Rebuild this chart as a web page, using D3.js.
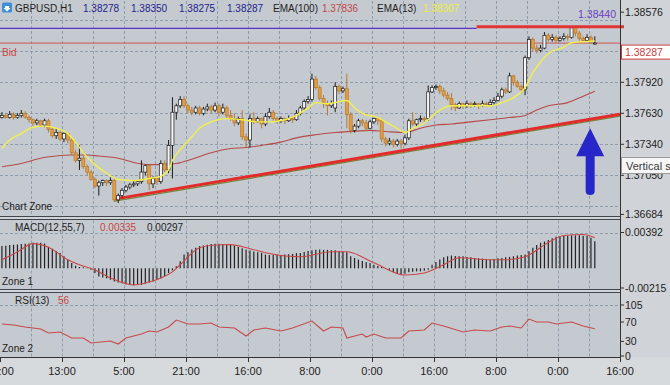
<!DOCTYPE html>
<html>
<head>
<meta charset="utf-8">
<script src="https://cdn.jsdelivr.net/npm/d3@7"></script>
<style>
  body { margin: 0; background: #d0d3d7; }
  svg { display: block; font-family: "Liberation Sans", Arial, sans-serif; }
</style>
</head>
<body>
<div id="chart"></div>
<script>
// H1 candles, [open, high, low, close]
const candles = [
  [1.3759,1.3764,1.3758,1.3761],[1.3761,1.3763,1.3758,1.3759],[1.3759,1.3765,1.3758,1.3762],[1.3762,1.3764,1.3757,1.3759],
  [1.3759,1.3763,1.3758,1.3761],[1.3761,1.3766,1.3759,1.3763],[1.3763,1.3765,1.3758,1.3759],[1.3759,1.3761,1.3754,1.3757],
  [1.3757,1.3758,1.3751,1.3754],[1.3754,1.3758,1.3752,1.3756],[1.3756,1.3757,1.3750,1.3752],[1.3752,1.3758,1.3750,1.3756],
  [1.3756,1.3758,1.3745,1.3748],[1.3748,1.3750,1.3740,1.3742],[1.3742,1.3749,1.3739,1.3745],[1.3745,1.3747,1.3737,1.3739],
  [1.3739,1.3745,1.3736,1.3744],[1.3744,1.3744,1.3735,1.3738],[1.3738,1.3740,1.3724,1.3726],[1.3726,1.3729,1.3717,1.3719],
  [1.3719,1.3733,1.3710,1.3721],[1.3721,1.3723,1.3711,1.3713],[1.3713,1.3715,1.3705,1.3708],[1.3708,1.3710,1.3700,1.3701],
  [1.3701,1.3703,1.3693,1.3695],[1.3695,1.3700,1.3686,1.3698],[1.3698,1.3701,1.3695,1.3700],[1.3700,1.3701,1.3695,1.3698],
  [1.3698,1.3703,1.3696,1.3700],[1.3700,1.3702,1.3680,1.3682],[1.3682,1.3688,1.3679,1.3686],[1.3686,1.3693,1.3684,1.3691],
  [1.3691,1.3696,1.3689,1.3694],[1.3694,1.3698,1.3692,1.3696],[1.3696,1.3700,1.3694,1.3697],[1.3697,1.3700,1.3695,1.3699],
  [1.3699,1.3719,1.3697,1.3708],[1.3708,1.3715,1.3705,1.3714],[1.3714,1.3715,1.3691,1.3697],[1.3697,1.3704,1.3693,1.3702],
  [1.3702,1.3704,1.3696,1.3699],[1.3699,1.3719,1.3697,1.3716],[1.3716,1.3719,1.3708,1.3710],[1.3710,1.3738,1.3707,1.3733],
  [1.3733,1.3778,1.3702,1.3764],[1.3764,1.3772,1.3757,1.3770],[1.3770,1.3779,1.3768,1.3776],[1.3776,1.3779,1.3768,1.3770],
  [1.3770,1.3772,1.3763,1.3766],[1.3766,1.3769,1.3761,1.3764],[1.3764,1.3770,1.3762,1.3768],[1.3768,1.3770,1.3761,1.3763],
  [1.3763,1.3769,1.3761,1.3767],[1.3767,1.3772,1.3765,1.3769],[1.3769,1.3771,1.3763,1.3766],[1.3766,1.3773,1.3764,1.3770],
  [1.3770,1.3772,1.3760,1.3764],[1.3764,1.3772,1.3762,1.3768],[1.3768,1.3770,1.3758,1.3761],[1.3761,1.3766,1.3756,1.3758],
  [1.3758,1.3763,1.3751,1.3754],[1.3754,1.3760,1.3752,1.3758],[1.3758,1.3766,1.3738,1.3741],[1.3741,1.3744,1.3731,1.3738],
  [1.3738,1.3762,1.3731,1.3758],[1.3758,1.3764,1.3753,1.3755],[1.3755,1.3760,1.3754,1.3758],[1.3758,1.3759,1.3749,1.3753],
  [1.3753,1.3763,1.3751,1.3760],[1.3760,1.3768,1.3758,1.3764],[1.3764,1.3766,1.3756,1.3758],[1.3758,1.3760,1.3753,1.3756],
  [1.3756,1.3760,1.3754,1.3758],[1.3758,1.3759,1.3753,1.3756],[1.3756,1.3761,1.3755,1.3758],[1.3758,1.3760,1.3754,1.3757],
  [1.3757,1.3766,1.3756,1.3763],[1.3763,1.3770,1.3761,1.3768],[1.3768,1.3776,1.3766,1.3774],[1.3774,1.3779,1.3772,1.3776],
  [1.3776,1.3800,1.3774,1.3795],[1.3795,1.3798,1.3785,1.3787],[1.3787,1.3789,1.3775,1.3777],[1.3777,1.3780,1.3768,1.3772],
  [1.3772,1.3775,1.3761,1.3770],[1.3770,1.3775,1.3768,1.3772],[1.3768,1.3792,1.3764,1.3788],[1.3788,1.3790,1.3781,1.3784],
  [1.3784,1.3788,1.3782,1.3786],[1.3786,1.3800,1.3749,1.3762],[1.3762,1.3764,1.3744,1.3747],[1.3747,1.3753,1.3745,1.3751],
  [1.3751,1.3758,1.3749,1.3756],[1.3756,1.3758,1.3751,1.3754],[1.3754,1.3757,1.3746,1.3749],[1.3749,1.3757,1.3748,1.3755],
  [1.3755,1.3759,1.3753,1.3758],[1.3758,1.3758,1.3752,1.3756],[1.3756,1.3758,1.3736,1.3739],[1.3739,1.3741,1.3732,1.3735],
  [1.3735,1.3740,1.3733,1.3737],[1.3737,1.3739,1.3731,1.3734],[1.3734,1.3739,1.3732,1.3737],[1.3737,1.3739,1.3730,1.3735],
  [1.3735,1.3743,1.3733,1.3740],[1.3740,1.3758,1.3738,1.3756],[1.3756,1.3764,1.3751,1.3753],[1.3753,1.3758,1.3751,1.3757],
  [1.3757,1.3761,1.3755,1.3758],[1.3758,1.3760,1.3754,1.3757],[1.3758,1.3789,1.3756,1.3783],[1.3783,1.3789,1.3782,1.3787],
  [1.3787,1.3790,1.3785,1.3788],[1.3788,1.3790,1.3781,1.3784],[1.3784,1.3787,1.3778,1.3780],[1.3780,1.3783,1.3775,1.3777],
  [1.3777,1.3782,1.3766,1.3771],[1.3771,1.3773,1.3765,1.3768],[1.3768,1.3774,1.3767,1.3772],[1.3772,1.3773,1.3767,1.3770],
  [1.3770,1.3775,1.3768,1.3772],[1.3772,1.3774,1.3768,1.3771],[1.3771,1.3774,1.3769,1.3772],[1.3772,1.3772,1.3767,1.3770],
  [1.3770,1.3775,1.3769,1.3772],[1.3772,1.3774,1.3769,1.3771],[1.3771,1.3776,1.3770,1.3773],[1.3773,1.3778,1.3771,1.3775],
  [1.3775,1.3782,1.3774,1.3779],[1.3779,1.3787,1.3777,1.3785],[1.3785,1.3787,1.3781,1.3783],[1.3783,1.3801,1.3782,1.3798],
  [1.3798,1.3799,1.3789,1.3792],[1.3792,1.3794,1.3787,1.3788],[1.3788,1.3790,1.3782,1.3785],[1.3785,1.3817,1.3780,1.3815],
  [1.3815,1.3835,1.3813,1.3832],[1.3832,1.3834,1.3821,1.3824],[1.3824,1.3827,1.3819,1.3822],[1.3822,1.3827,1.3820,1.3824],
  [1.3824,1.3839,1.3823,1.3836],[1.3836,1.3838,1.3830,1.3832],[1.3832,1.3837,1.3830,1.3834],[1.3834,1.3836,1.3829,1.3831],
  [1.3831,1.3835,1.3830,1.3833],[1.3833,1.3838,1.3831,1.3835],[1.3835,1.3837,1.3831,1.3834],[1.3834,1.3844,1.3833,1.3843],
  [1.3843,1.3844,1.3835,1.3838],[1.3838,1.3840,1.3831,1.3833],[1.3833,1.3835,1.3830,1.3831],[1.3831,1.3837,1.3830,1.3834],
  [1.3834,1.3836,1.3828,1.3830],[1.38278,1.38350,1.38275,1.38287]
];

// indicator lines, [bar, value]
const ema13 = [
  [0,1.3730],[2,1.3738],[5,1.3744],[8,1.3750],[11,1.3751],[14,1.3749],[17,1.3744],[19,1.3736],[21,1.3726],
  [24,1.3715],[27,1.3707],[30,1.3701],[34,1.3700],[38,1.3702],[41,1.3704],[43,1.3710],[44,1.3719],[46,1.3729],
  [49,1.3741],[51,1.3749],[54,1.3755],[58,1.3758],[62,1.3757],[66,1.3755],[69,1.3755],[73,1.3757],[76,1.3761],
  [79,1.3768],[81,1.3773],[84,1.3772],[86,1.3773],[89,1.3775],[91,1.3768],[93,1.3763],[97,1.3759],[99,1.3755],
  [102,1.3749],[104,1.3745],[106,1.3749],[109,1.3754],[110,1.3757],[113,1.3766],[116,1.3770],[119,1.3770],
  [123,1.3770],[126,1.3770],[129,1.3773],[133,1.3780],[135,1.3787],[137,1.3801],[139,1.3811],[141,1.3819],
  [145,1.3825],[147,1.3829],[150,1.3830],[153,1.38307]
];
const ema100 = [
  [0,1.3713],[5,1.3716],[10,1.3721],[14,1.3723],[18,1.3724],[22,1.3724],[25,1.3723],[30,1.3721],[34,1.3717],
  [38,1.3715],[41,1.3715],[45,1.3716],[49,1.3720],[54,1.3726],[59,1.3730],[63,1.3731],[67,1.3733],[72,1.3736],
  [76,1.3740],[81,1.3743],[86,1.3745],[90,1.3746],[95,1.3747],[99,1.3746],[104,1.3745],[108,1.3749],[112,1.3752],
  [116,1.3753],[121,1.3755],[126,1.3757],[131,1.3759],[135,1.3761],[138,1.3766],[141,1.3770],[146,1.3773],
  [150,1.3779],[153,1.37836]
];

// MACD(12,55,7) histogram, one per bar
const macdHist = [
  .00243,.00247,.00254,.00258,.00261,.00265,.00269,.00272,.00280,.00280,.00280,.00272,.00236,.00213,.00191,.00169,
  .00132,.00096,.00059,.00029,.00015,.00011,.00004,-.00015,-.00052,-.00088,-.00099,-.00110,-.00125,-.00144,-.00155,-.00162,
  -.00173,-.00180,-.00184,-.00180,-.00180,-.00169,-.00155,-.00144,-.00125,-.00107,-.00088,-.00052,-.00022,.00022,.00077,.00151,
  .00177,.00206,.00224,.00243,.00250,.00258,.00265,.00269,.00269,.00265,.00261,.00258,.00250,.00236,.00221,.00206,
  .00195,.00184,.00177,.00169,.00151,.00147,.00147,.00151,.00147,.00151,.00155,.00158,.00166,.00169,.00180,.00191,
  .00199,.00202,.00206,.00202,.00202,.00199,.00199,.00191,.00184,.00177,.00132,.00114,.00096,.00081,.00070,.00059,
  .00040,.00026,.00015,.00002,-.00015,-.00044,-.00059,-.00070,-.00059,-.00044,-.00037,-.00033,-.00033,-.00026,-.00015,.00040,
  .00070,.00096,.00121,.00132,.00140,.00136,.00132,.00132,.00125,.00121,.00114,.00110,.00107,.00099,.00096,.00103,
  .00110,.00114,.00121,.00125,.00132,.00140,.00147,.00151,.00188,.00224,.00254,.00280,.00294,.00309,.00328,.00346,
  .00350,.00353,.00357,.00361,.00361,.00361,.00357,.00353,.00335,.00297
];
const macdSignal = [
  [0,.00094],[4,.00180],[8,.00270],[12,.00230],[17,.00094],[20,.00039],[24,-.00017],[28,-.00105],[34,-.00182],
  [38,-.00149],[41,-.00105],[44,-.00039],[46,.00039],[51,.00226],[55,.00255],[59,.00259],[64,.00215],[68,.00171],
  [77,.00127],[85,.00182],[89,.00182],[96,.00061],[104,-.00072],[109,-.00050],[114,.00039],[118,.00116],
  [126,.00094],[130,.00094],[135,.00127],[141,.00282],[145,.00359],[150,.00370],[153,.00335]
];

// RSI(13)
const rsi13 = [
  [0,65.8],[3,63.8],[6,59.7],[10,55.6],[12,47.3],[15,49.4],[18,37.0],[21,37.0],[23,26.7],[28,30.9],[30,24.7],
  [32,37.0],[36,45.3],[38,51.4],[40,49.4],[43,59.7],[45,74.1],[48,65.8],[51,65.8],[54,67.9],[56,59.7],[60,57.6],
  [63,41.2],[65,53.5],[68,57.6],[72,51.4],[75,57.6],[80,72.0],[83,51.4],[85,59.7],[88,57.6],[89,37.0],[93,45.3],
  [94,39.1],[96,45.3],[99,37.0],[103,37.0],[105,51.4],[109,53.5],[111,67.9],[114,61.7],[119,49.4],[122,53.5],
  [126,51.4],[129,59.7],[131,61.7],[134,57.6],[136,76.1],[138,70.0],[141,70.0],[143,65.8],[147,70.0],[150,61.7],
  [151,59.7],[153,56]
];

const timeLabels = ["21:00","13:00","5:00","21:00","16:00","8:00","0:00","16:00","8:00","0:00","16:00"];
const priceTicks = [1.38576, 1.37920, 1.37630, 1.37340, 1.37050, 1.36684];
const priceGrid = [1.3850, 1.3821, 1.3792, 1.3763, 1.3734, 1.3705, 1.3676];
const macdTicks = [0.00392, -0.00215];
const rsiTicks = [105, 70, 30, 0];
const ohlcLast = ["1.38278", "1.38350", "1.38275", "1.38287"];
const bidPrice = 1.38287;
const levelPrice = 1.38440;
const purplePrice = 1.38425;
const levelFromBar = 123;
const trendLine = [[29, 1.36827], [159.5, 1.37622]];
const arrowMark = { bar: 151.8, tip: 1.37489, tail: 1.36865 };

const width = 670;
const height = 385;
const plotRight = 620;

const x = d3.scaleLinear().domain([0, 160]).range([0, plotRight]);
const xc = i => x(i + 0.5);
const yP = d3.scaleLinear().domain([1.36684, 1.38576]).range([214.4, 12.2]);
const yM = d3.scaleLinear().domain([-0.00215, 0.00392]).range([288, 232.5]);
const yR = d3.scaleLinear().domain([0, 105]).range([356, 305]);

const panels = [
  { top: 0, bottom: 216.5 },
  { top: 219.5, bottom: 289.5 },
  { top: 292.5, bottom: 357.5 }
];

const svg = d3.create("svg")
    .attr("width", width)
    .attr("height", height)
    .attr("viewBox", [0, 0, width, height]);

svg.append("rect").attr("width", width).attr("height", height).attr("fill", "#d0d3d7");
svg.append("rect").attr("y", 357.5).attr("width", width).attr("height", height - 357.5).attr("fill", "#d7dadd");

// panel backgrounds + frames
svg.append("g").selectAll("rect")
  .data(panels)
  .join("rect")
    .attr("x", 0)
    .attr("y", d => d.top)
    .attr("width", plotRight)
    .attr("height", d => d.bottom - d.top)
    .attr("fill", "#c5cad0");

svg.append("g")
    .attr("stroke", "#41464b")
    .selectAll("line")
    .data([216.5, 219.5, 289.5, 292.5])
    .join("line")
      .attr("x1", 0).attr("x2", plotRight)
      .attr("y1", d => d).attr("y2", d => d);

// grid
const grid = svg.append("g")
    .attr("stroke", "#8a97a8")
    .attr("stroke-dasharray", "3,2")
    .attr("stroke-width", 0.9);

panels.forEach(p => {
  grid.append("g").selectAll("line")
    .data(d3.range(8, 160, 8))
    .join("line")
      .attr("x1", d => Math.round(x(d)) + 0.5).attr("x2", d => Math.round(x(d)) + 0.5)
      .attr("y1", p.top + 1).attr("y2", p.bottom - 1);
});

grid.append("g").selectAll("line")
  .data(priceGrid)
  .join("line")
    .attr("x1", 0).attr("x2", plotRight)
    .attr("y1", d => Math.round(yP(d)) + 0.5).attr("y2", d => Math.round(yP(d)) + 0.5);

grid.append("line")
    .attr("x1", 0).attr("x2", plotRight)
    .attr("y1", Math.round(yM(macdTicks[0])) + 0.5).attr("y2", Math.round(yM(macdTicks[0])) + 0.5);

grid.append("line")
    .attr("x1", 0).attr("x2", plotRight)
    .attr("y1", Math.round(yR(105)) + 0.5).attr("y2", Math.round(yR(105)) + 0.5);

// horizontal levels
svg.append("line")
    .attr("x1", 0).attr("x2", x(levelFromBar))
    .attr("y1", yP(purplePrice)).attr("y2", yP(purplePrice))
    .attr("stroke", "#5a32c4").attr("stroke-width", 1.2);

svg.append("line")
    .attr("x1", 0).attr("x2", plotRight)
    .attr("y1", yP(bidPrice)).attr("y2", yP(bidPrice))
    .attr("stroke", "#d05555").attr("stroke-width", 1);

// EMA(100)
const emaLine = d3.line()
    .curve(d3.curveMonotoneX)
    .x(d => xc(d[0]))
    .y(d => yP(d[1]));

svg.append("path")
    .datum(ema100)
    .attr("fill", "none")
    .attr("stroke", "#b54a4a")
    .attr("stroke-width", 1.1)
    .attr("d", emaLine);

// trend line with its shadow
const trendPath = d3.line().x(d => xc(d[0])).y(d => yP(d[1]));
svg.append("path")
    .datum(trendLine)
    .attr("fill", "none")
    .attr("stroke", "#6f8a3c")
    .attr("stroke-width", 1.2)
    .attr("transform", "translate(0,2)")
    .attr("d", trendPath);
svg.append("path")
    .datum(trendLine)
    .attr("fill", "none")
    .attr("stroke", "#e42b2b")
    .attr("stroke-width", 3)
    .attr("d", trendPath);

// candles
const bull = d => d[3] >= d[0];
const candleG = svg.append("g")
    .selectAll("g")
    .data(candles)
    .join("g");

candleG.append("line")
    .attr("x1", (d, i) => xc(i)).attr("x2", (d, i) => xc(i))
    .attr("y1", d => yP(d[1])).attr("y2", d => yP(d[2]))
    .attr("stroke", d => bull(d) ? "#1c1c1c" : "#b47a32")
    .attr("stroke-width", 1);

candleG.append("rect")
    .attr("x", (d, i) => xc(i) - 1.5)
    .attr("width", 3)
    .attr("y", d => yP(Math.max(d[0], d[3])))
    .attr("height", d => Math.max(1, Math.abs(yP(d[0]) - yP(d[3]))))
    .attr("fill", d => bull(d) ? "#f5f5f5" : "#e49c3d")
    .attr("stroke", d => bull(d) ? "#1c1c1c" : "#b47a32")
    .attr("stroke-width", 0.7);

// EMA(13)
svg.append("path")
    .datum(ema13)
    .attr("fill", "none")
    .attr("stroke", "#f2f04a")
    .attr("stroke-width", 1.4)
    .attr("d", emaLine);

// red level line at the top
svg.append("line")
    .attr("x1", x(levelFromBar)).attr("x2", plotRight + 4)
    .attr("y1", yP(levelPrice)).attr("y2", yP(levelPrice))
    .attr("stroke", "#e13434").attr("stroke-width", 3);

svg.append("text")
    .attr("x", plotRight - 4)
    .attr("y", yP(levelPrice) - 9)
    .attr("text-anchor", "end")
    .attr("font-size", 10.5)
    .attr("fill", "#6a3fc4")
    .text(levelPrice.toFixed(5));

// blue arrow
const ax = xc(arrowMark.bar);
const tipY = yP(arrowMark.tip);
const tailY = yP(arrowMark.tail);
svg.append("path")
    .attr("d", `M${ax},${tipY} L${ax + 14},${tipY + 28} L${ax + 4.5},${tipY + 28} L${ax + 4.5},${tailY - 4}
                Q${ax + 4.5},${tailY} ${ax},${tailY} Q${ax - 4.5},${tailY} ${ax - 4.5},${tailY - 4}
                L${ax - 4.5},${tipY + 28} L${ax - 14},${tipY + 28} Z`)
    .attr("fill", "#2727c9");

// MACD panel
svg.append("g")
    .attr("stroke", "#222")
    .attr("stroke-width", 1.2)
    .selectAll("line")
    .data(macdHist)
    .join("line")
      .attr("x1", (d, i) => xc(i)).attr("x2", (d, i) => xc(i))
      .attr("y1", yM(0)).attr("y2", d => yM(d));

svg.append("path")
    .datum(macdSignal)
    .attr("fill", "none")
    .attr("stroke", "#c84646")
    .attr("stroke-width", 1.1)
    .attr("d", d3.line().curve(d3.curveMonotoneX).x(d => xc(d[0])).y(d => yM(d[1])));

// RSI panel
svg.append("path")
    .datum(rsi13)
    .attr("fill", "none")
    .attr("stroke", "#c54a4a")
    .attr("stroke-width", 1.1)
    .attr("d", d3.line().x(d => xc(d[0])).y(d => yR(d[1])));

// right axis
svg.append("line")
    .attr("x1", plotRight + 0.5).attr("x2", plotRight + 0.5)
    .attr("y1", 0).attr("y2", 358)
    .attr("stroke", "#333");
svg.append("line")
    .attr("x1", 0).attr("x2", plotRight)
    .attr("y1", 357.5).attr("y2", 357.5)
    .attr("stroke", "#333");

const rightAxis = (ticks, scale, fmt) => {
  const g = svg.append("g").attr("font-size", 10.5).attr("fill", "#1e1e1e");
  g.selectAll("line")
    .data(ticks)
    .join("line")
      .attr("x1", plotRight).attr("x2", plotRight + 4)
      .attr("y1", d => scale(d)).attr("y2", d => scale(d))
      .attr("stroke", "#333");
  g.selectAll("text")
    .data(ticks)
    .join("text")
      .attr("x", plotRight + 5)
      .attr("y", d => scale(d))
      .attr("dy", "0.36em")
      .text(fmt);
};
rightAxis(priceTicks, yP, d => d.toFixed(5));
rightAxis(macdTicks, yM, d => d.toFixed(5));
rightAxis(rsiTicks, yR, d => d);

// bid box
svg.append("rect")
    .attr("x", plotRight + 1.5).attr("y", yP(bidPrice) + 2)
    .attr("width", 52).attr("height", 14)
    .attr("fill", "#ffffff").attr("stroke", "#d23c3c");
svg.append("text")
    .attr("x", plotRight + 5).attr("y", yP(bidPrice) + 9)
    .attr("dy", "0.36em")
    .attr("font-size", 10.5)
    .attr("fill", "#d23c3c")
    .text(bidPrice.toFixed(5));

// tooltip
svg.append("rect")
    .attr("x", plotRight + 1.5).attr("y", 157.5)
    .attr("width", 55).attr("height", 16)
    .attr("fill", "#f6f6f6").attr("stroke", "#9a9a9a");
svg.append("text")
    .attr("x", plotRight + 6).attr("y", 169.5)
    .attr("font-size", 11)
    .attr("fill", "#3a3a3a")
    .text("Vertical s");

// time axis
const tg = svg.append("g");
tg.selectAll("line")
  .data(timeLabels)
  .join("line")
    .attr("x1", (d, i) => x(i * 16) + 0.5).attr("x2", (d, i) => x(i * 16) + 0.5)
    .attr("y1", 358).attr("y2", 362)
    .attr("stroke", "#333");
tg.selectAll("text")
  .data(timeLabels)
  .join("text")
    .attr("x", (d, i) => x(i * 16))
    .attr("y", 375)
    .attr("text-anchor", "middle")
    .attr("font-size", 11)
    .attr("fill", "#1e1e1e")
    .text(d => d);

// header texts
svg.append("rect").attr("x", 2).attr("y", 2.5).attr("width", 10).attr("height", 10).attr("rx", 1.5).attr("fill", "#3d8fdc");
svg.append("path").attr("d", "M5,6 L9,6 L9,8 L10.5,8 L7,11.5 L3.5,8 L5,8 Z").attr("fill", "#fff");

const head = svg.append("g").attr("font-size", 10);
head.append("text").attr("x", 15).attr("y", 12).attr("fill", "#1e1e1e").text("GBPUSD,H1");
head.selectAll(".ohlc")
  .data(ohlcLast)
  .join("text")
    .attr("x", (d, i) => 83 + i * 48)
    .attr("y", 12)
    .attr("fill", "#23238c")
    .text(d => d);
head.append("text").attr("x", 273).attr("y", 12).attr("fill", "#1e1e1e").text("EMA(100)");
head.append("text").attr("x", 322).attr("y", 12).attr("fill", "#c24848").text(ema100[ema100.length - 1][1].toFixed(5));
head.append("text").attr("x", 377).attr("y", 12).attr("fill", "#1e1e1e").text("EMA(13)");
head.append("text").attr("x", 423).attr("y", 12).attr("fill", "#eeee3a").text(ema13[ema13.length - 1][1].toFixed(5));

head.append("text").attr("x", 2).attr("y", yP(bidPrice) + 13).attr("fill", "#cc4444").text("Bid");
head.append("text").attr("x", 2).attr("y", 210).attr("fill", "#1e1e1e").text("Chart Zone");

head.append("text").attr("x", 15).attr("y", 231).attr("fill", "#1e1e1e").text("MACD(12,55,7)");
head.append("text").attr("x", 100).attr("y", 231).attr("fill", "#c84646").text(macdSignal[macdSignal.length - 1][1].toFixed(5));
head.append("text").attr("x", 147).attr("y", 231).attr("fill", "#1e1e1e").text(macdHist[macdHist.length - 1].toFixed(5));
head.append("text").attr("x", 2).attr("y", 285).attr("fill", "#1e1e1e").text("Zone 1");

head.append("text").attr("x", 15).attr("y", 304).attr("fill", "#1e1e1e").text("RSI(13)");
head.append("text").attr("x", 58).attr("y", 304).attr("fill", "#c84646").text(rsi13[rsi13.length - 1][1]);
head.append("text").attr("x", 2).attr("y", 352).attr("fill", "#1e1e1e").text("Zone 2");

d3.select("#chart").node().append(svg.node());
</script>
</body>
</html>
